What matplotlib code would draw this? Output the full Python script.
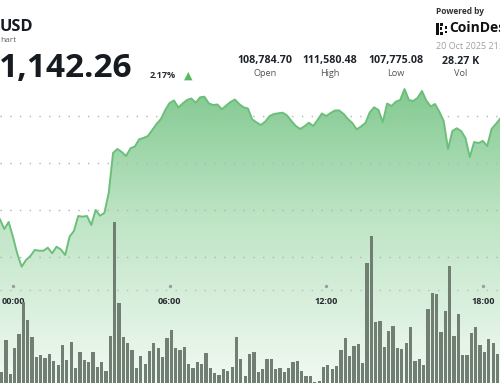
import numpy as np
import matplotlib
matplotlib.use('Agg')
import matplotlib.pyplot as plt
from matplotlib.colors import LinearSegmentedColormap
from matplotlib.patches import Rectangle

# BTC/USD price, one point every 10 min starting 23:30 (hours relative to 00:00)
start_hour = -0.5
step_hours = 1 / 6
price = [108799, 108592, 108742, 108421, 108059, 107788, 107931, 108016, 108144, 108129,
         108129, 108193, 108074, 108214, 108155, 108037, 108428, 108550, 108870, 108855,
         108870, 108678, 108998, 108876, 108934, 109361, 110215, 110300, 110236, 110150,
         110315, 110353, 110507, 110535, 110577, 110705, 110834, 110940, 111132, 111282,
         111335, 111186, 111271, 111346, 111378, 111288, 111403, 111416, 111275, 111239,
         111250, 111147, 111228, 111303, 111356, 111260, 111190, 111164, 110930, 110866,
         110812, 110887, 111004, 111047, 111062, 111075, 111015, 110898, 110791, 110727,
         110784, 110861, 110791, 110919, 111058, 111004, 111068, 111122, 111122, 111047,
         110940, 110855, 110720, 110780, 110855, 111079, 111190, 111132, 110876, 111271,
         111218, 111310, 111346, 111580, 111346, 111324, 111393, 111538, 111335, 111207,
         111260, 111096, 110898, 110300, 110684, 110742, 110684, 110535, 110129, 110449,
         110428, 110471, 110364, 110727, 110834, 110951]

# volume per 10 min bar (BTC)
volume = [55, 215, 45, 175, 245, 405, 315, 230, 130, 140,
          125, 145, 110, 90, 190, 115, 205, 75, 155, 115,
          105, 155, 80, 105, 60, 235, 805, 400, 230, 200,
          165, 75, 135, 95, 160, 200, 175, 130, 225, 265,
          175, 165, 180, 95, 75, 105, 95, 150, 75, 50,
          40, 70, 60, 80, 230, 120, 35, 145, 155, 55,
          70, 120, 120, 70, 75, 55, 75, 105, 110, 60,
          35, 35, 5, 10, 80, 90, 70, 85, 165, 225,
          135, 185, 195, 100, 600, 735, 305, 310, 180, 260,
          285, 175, 170, 200, 280, 110, 120, 90, 370, 450,
          445, 255, 360, 585, 235, 345, 140, 140, 250, 280,
          190, 155, 220, 200, 145, 110]

tick_hours = [0, 6, 12, 18]
tick_labels = ['00:00', '06:00', '12:00', '18:00']
grid_prices = [108000, 109000, 110000, 111000]

stat_values = ['108,784.70', '111,580.48', '107,775.08', '28.27 K']
stat_names = ['Open', 'High', 'Low', 'Vol']

W, H = 500, 383
FONT = 'Open Sans'


def fx(x):
    return x / W


def fy(y):
    return 1 - y / H


t = start_hour + step_hours * np.arange(len(price))

fig = plt.figure(figsize=(5, 3.83), dpi=100)
ax = fig.add_axes([0, 0, 1, 1])
xlim = (-0.498, 18.657)
ylim = (105305, 113480)

# gradient area under the price line
cmap = LinearSegmentedColormap.from_list(
    'g', [(0, '#f1f9f2'), (0.44, '#bde4c4'), (0.765, '#84ca92'), (1, '#70c07f')])
poly = ax.fill_between(t, price, ylim[0], color='none', lw=0)
grad = np.linspace(0, 1, 256).reshape(-1, 1)
im = ax.imshow(grad, extent=[xlim[0], xlim[1], ylim[0], ylim[1]], origin='lower',
               aspect='auto', cmap=cmap, zorder=1)
im.set_clip_path(poly.get_paths()[0], ax.transData)

for p in grid_prices:
    ax.axhline(p, color='#b4b4b4', lw=1.0, ls=(0, (1, 6)), zorder=3)
ax.plot(t, price, color='#6cbf7b', lw=1.4, zorder=4)

# pane separator, ticks and time labels
xt = ax.get_xaxis_transform()
ax.plot([0, 1], [fy(289.5)] * 2, color='#bdbdbd', lw=1.0, ls=(0, (1, 6)),
        transform=ax.transAxes, zorder=3)
ax.plot(tick_hours, [fy(285.5)] * len(tick_hours), 'o', ms=1.4, color='#9c9c9c',
        transform=xt, zorder=3)
for h, lab in zip(tick_hours, tick_labels):
    ax.text(h, fy(301), lab, transform=xt, ha='center', va='center',
            fontsize=6.6, fontweight='bold', family=FONT, color='#262b30', zorder=5)

ax.set_xlim(*xlim)
ax.set_ylim(*ylim)
ax.axis('off')

# volume bars
ax2 = ax.twinx()
ax2.bar(t, volume, width=0.125, align='edge', color='#717e72', lw=0, zorder=2)
ax2.set_ylim(0, 1915)
ax2.set_xlim(*xlim)
ax2.axis('off')

# header
fig.text(fx(0), fy(30.7), 'USD', fontsize=11.8, fontweight='bold', family=FONT,
         color='#161b22', va='baseline')
fig.text(fx(0), fy(41.7), 'hart', fontsize=6, family=FONT, color='#666666', va='baseline')
fig.text(fx(-1.5), fy(77), '1,142.26', fontsize=24, fontweight='bold', family=FONT,
         color='#161b22', va='baseline')
fig.text(fx(150), fy(78), '2.17%', fontsize=6.6, fontweight='bold', family=FONT,
         color='#2a2f35', va='baseline')
fig.text(fx(188), fy(76), '\u25b2', fontsize=8, family='DejaVu Sans', color='#5cb860',
         ha='center', va='center')

centers = [265, 330, 396, 461]
for c, v, n in zip(centers, stat_values, stat_names):
    fig.text(fx(c), fy(63.5), v, fontsize=7.7, fontweight='bold', family=FONT,
             color='#1e2329', ha='center', va='baseline')
    fig.text(fx(c), fy(76.5), n, fontsize=6.6, family=FONT, color='#555555',
             ha='center', va='baseline')

fig.text(fx(436), fy(14), 'Powered by', fontsize=6, fontweight='bold', family=FONT,
         color='#333333', va='baseline')
fig.text(fx(449), fy(32.5), 'CoinDesk', fontsize=10, fontweight='bold', family=FONT,
         color='#111111', va='baseline')
fig.text(fx(436), fy(49), '20 Oct 2025 21:00', fontsize=6.5, family=FONT,
         color='#a0a0a0', va='baseline')

# CoinDesk mark
for (x0, y0, w, h) in [(436, 23, 3, 12), (439.5, 23, 3, 3), (439.5, 32, 3, 3),
                       (439.5, 27.5, 2, 2), (444.5, 26, 2.5, 2.5), (444.5, 30.5, 2.5, 2.5)]:
    fig.add_artist(Rectangle((fx(x0), fy(y0 + h)), w / W, h / H,
                             transform=fig.transFigure, color='#111111', lw=0))

fig.savefig('out.png', dpi=100)
